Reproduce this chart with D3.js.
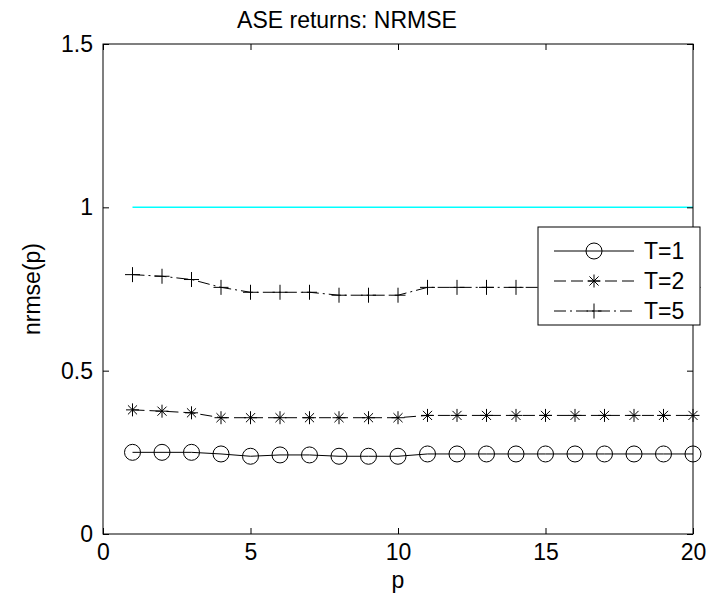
<!DOCTYPE html>
<html>
<head>
<meta charset="utf-8">
<script src="https://cdn.jsdelivr.net/npm/d3@7"></script>
<style>
  body { margin: 0; background: #fff; }
  text { font-family: "Liberation Sans", Arial, sans-serif; fill: #000; }
</style>
</head>
<body>
<svg id="chart" width="711" height="598"></svg>
<script>
// values
const p = d3.range(1, 21);
const t1 = [0.25, 0.25, 0.25, 0.245, 0.238, 0.242, 0.242, 0.238, 0.238, 0.238,
            0.245, 0.245, 0.245, 0.245, 0.245, 0.245, 0.245, 0.245, 0.245, 0.245];
const t2 = [0.38, 0.376, 0.371, 0.356, 0.356, 0.356, 0.356, 0.356, 0.356, 0.356,
            0.363, 0.363, 0.363, 0.363, 0.363, 0.363, 0.363, 0.363, 0.363, 0.363];
const t5 = [0.794, 0.789, 0.779, 0.755, 0.74, 0.74, 0.74, 0.731, 0.731, 0.731,
            0.755, 0.755, 0.755, 0.755, 0.755, 0.755, 0.755, 0.755, 0.755, 0.755];
const ref = [1, 1];
const xTicks = [0, 5, 10, 15, 20];
const yTicks = [0, 0.5, 1, 1.5];
const labels = ["T=1", "T=2", "T=5"];

const svg = d3.select("#chart");
const m = {left: 103, right: 693, top: 44, bottom: 534};
const x = d3.scaleLinear().domain([0, 20]).range([m.left, m.right]);
const y = d3.scaleLinear().domain([0, 1.5]).range([m.bottom, m.top]);
const fs = 23;

// reference line at 1
svg.append("path")
  .datum(ref)
  .attr("d", d3.line().x((d, i) => x(i === 0 ? 1 : 20)).y(d => y(d)))
  .attr("fill", "none").attr("stroke", "#00ffff").attr("stroke-width", 1.5);

const series = [
  {vals: t1, dash: null, marker: "o"},
  {vals: t2, dash: "12,5", marker: "*"},
  {vals: t5, dash: "12,4,2,4", marker: "+"}
];

function drawMarker(g, type, cx, cy) {
  if (type === "o") {
    g.append("circle").attr("cx", cx).attr("cy", cy).attr("r", 8)
      .attr("fill", "none").attr("stroke", "#000").attr("stroke-width", 1);
  } else if (type === "+") {
    const s = 7.5;
    g.append("path").attr("d", `M${cx - s},${cy}H${cx + s}M${cx},${cy - s}V${cy + s}`)
      .attr("stroke", "#000").attr("stroke-width", 1).attr("fill", "none");
  } else {
    const s = 6.5, d = s * 0.7;
    g.append("path")
      .attr("d", `M${cx - s},${cy}H${cx + s}M${cx},${cy - s}V${cy + s}M${cx - d},${cy - d}L${cx + d},${cy + d}M${cx - d},${cy + d}L${cx + d},${cy - d}`)
      .attr("stroke", "#000").attr("stroke-width", 1).attr("fill", "none");
  }
}

const line = d3.line().x((d, i) => x(p[i])).y(d => y(d));
series.forEach(s => {
  svg.append("path").datum(s.vals).attr("d", line)
    .attr("fill", "none").attr("stroke", "#000").attr("stroke-width", 1)
    .attr("stroke-dasharray", s.dash);
  const g = svg.append("g");
  s.vals.forEach((v, i) => drawMarker(g, s.marker, x(p[i]), y(v)));
});

// axes box with inward ticks on all sides
svg.append("rect").attr("x", m.left).attr("y", m.top)
  .attr("width", m.right - m.left).attr("height", m.bottom - m.top)
  .attr("fill", "none").attr("stroke", "#000").attr("stroke-width", 1);

const tl = 6;
svg.append("g").attr("transform", `translate(0,${m.bottom})`)
  .call(d3.axisBottom(x).tickValues(xTicks).tickSize(-tl).tickPadding(10).tickFormat(d3.format("d")))
  .call(g => g.select(".domain").remove());
svg.append("g").attr("transform", `translate(0,${m.top})`)
  .call(d3.axisTop(x).tickValues(xTicks).tickSize(-tl).tickFormat(""))
  .call(g => g.select(".domain").remove());
svg.append("g").attr("transform", `translate(${m.left},0)`)
  .call(d3.axisLeft(y).tickValues(yTicks).tickSize(-tl).tickPadding(10).tickFormat(d => d3.format("")(d)))
  .call(g => g.select(".domain").remove());
svg.append("g").attr("transform", `translate(${m.right},0)`)
  .call(d3.axisRight(y).tickValues(yTicks).tickSize(-tl).tickFormat(""))
  .call(g => g.select(".domain").remove());

svg.selectAll(".tick text").attr("font-size", fs).attr("font-family", "Liberation Sans, Arial, sans-serif");
svg.selectAll(".tick line").attr("stroke", "#000");

// titles
svg.append("text").attr("x", 347).attr("y", 28).attr("text-anchor", "middle")
  .attr("font-size", fs).text("ASE returns: NRMSE");
svg.append("text").attr("x", (m.left + m.right) / 2).attr("y", 588).attr("text-anchor", "middle")
  .attr("font-size", fs).text("p");
svg.append("text").attr("transform", `translate(40,${(m.top + m.bottom) / 2}) rotate(-90)`)
  .attr("text-anchor", "middle").attr("font-size", fs).text("nrmse(p)");

// legend
const lg = svg.append("g");
const lx = 538, ly = 227, lw = 162, rowH = 30;
lg.append("rect").attr("x", lx).attr("y", ly).attr("width", lw).attr("height", rowH * 3 + 8)
  .attr("fill", "#fff").attr("stroke", "#000").attr("stroke-width", 1);
series.forEach((s, i) => {
  const cy = ly + 24 + i * rowH;
  lg.append("line").attr("x1", lx + 16).attr("x2", lx + 96).attr("y1", cy).attr("y2", cy)
    .attr("stroke", "#000").attr("stroke-width", 1).attr("stroke-dasharray", s.dash);
  drawMarker(lg, s.marker, lx + 56, cy);
  lg.append("text").attr("x", lx + 106).attr("y", cy + 8).attr("font-size", fs).text(labels[i]);
});
</script>
</body>
</html>
